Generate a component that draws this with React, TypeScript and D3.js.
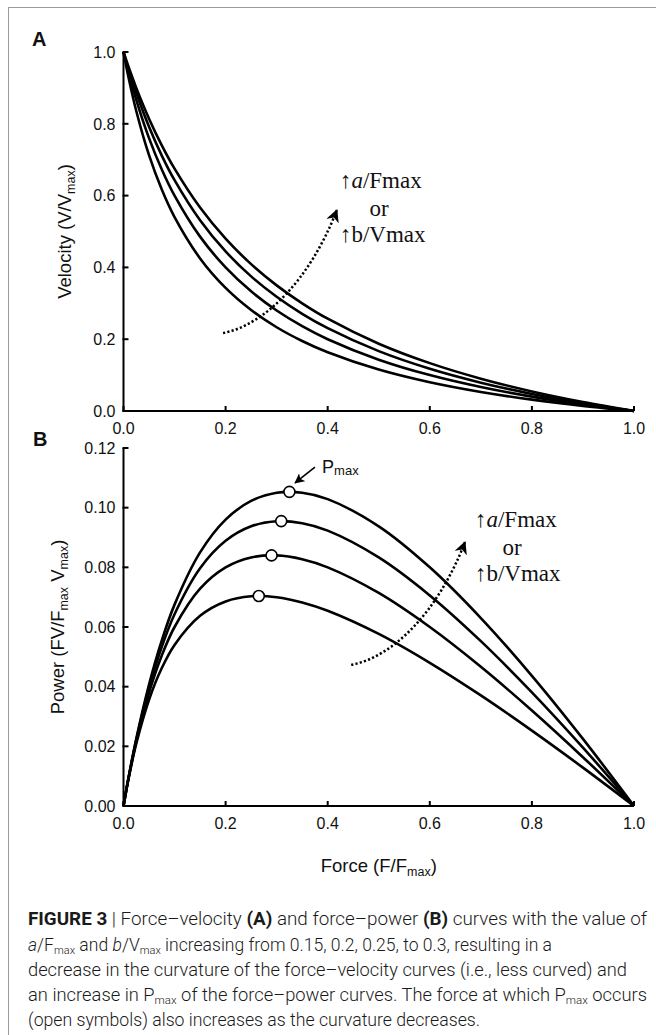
import React from 'react';
import * as d3 from 'd3';

// Normalized force grid (F/Fmax)
const force = [0, 0.01, 0.025, 0.05, 0.075, 0.1, 0.15, 0.2, 0.25, 0.3, 0.35, 0.4, 0.5, 0.6, 0.7, 0.8, 0.9, 1.0];
// a/Fmax = b/Vmax values
const curvature = [0.15, 0.2, 0.25, 0.3];

// Panel A: velocity (V/Vmax)
const velocity015 = [1, 0.9281, 0.8357, 0.7125, 0.6167, 0.54, 0.425, 0.3429, 0.2813, 0.2333, 0.195, 0.1636, 0.1154, 0.08, 0.0529, 0.0316, 0.0143, 0];
const velocity020 = [1, 0.9429, 0.8667, 0.76, 0.6727, 0.6, 0.4857, 0.4, 0.3333, 0.28, 0.2364, 0.2, 0.1429, 0.1, 0.0667, 0.04, 0.0182, 0];
const velocity025 = [1, 0.9519, 0.8864, 0.7917, 0.7115, 0.6429, 0.5313, 0.4444, 0.375, 0.3182, 0.2708, 0.2308, 0.1667, 0.1176, 0.0789, 0.0476, 0.0217, 0];
const velocity030 = [1, 0.9581, 0.9, 0.8143, 0.74, 0.675, 0.5667, 0.48, 0.4091, 0.35, 0.3, 0.2571, 0.1875, 0.1333, 0.09, 0.0545, 0.025, 0];

// Panel B: power (FV/Fmax Vmax)
const power015 = [0, 0.00928, 0.02089, 0.03563, 0.04625, 0.054, 0.06375, 0.06857, 0.07031, 0.07, 0.06825, 0.06545, 0.05769, 0.048, 0.03706, 0.02526, 0.01286, 0];
const power020 = [0, 0.00943, 0.02167, 0.038, 0.05045, 0.06, 0.07286, 0.08, 0.08333, 0.084, 0.08273, 0.08, 0.07143, 0.06, 0.04667, 0.032, 0.01636, 0];
const power025 = [0, 0.00952, 0.02216, 0.03958, 0.05337, 0.06429, 0.07969, 0.08889, 0.09375, 0.09545, 0.09479, 0.09231, 0.08333, 0.07059, 0.05526, 0.0381, 0.01957, 0];
const power030 = [0, 0.00958, 0.0225, 0.04071, 0.0555, 0.0675, 0.085, 0.096, 0.10227, 0.105, 0.105, 0.10286, 0.09375, 0.08, 0.063, 0.04364, 0.0225, 0];

// Pmax points (open symbols)
const pmaxForce = [0.265, 0.29, 0.309, 0.325];
const pmaxPower = [0.0704, 0.084, 0.0955, 0.1053];

// Ticks
const xTicks = [0, 0.2, 0.4, 0.6, 0.8, 1.0];
const vTicks = [0, 0.2, 0.4, 0.6, 0.8, 1.0];
const pTicks = [0, 0.02, 0.04, 0.06, 0.08, 0.1, 0.12];

const velocitySeries = [velocity015, velocity020, velocity025, velocity030];
const powerSeries = [power015, power020, power025, power030];

const SANS = '"Liberation Sans", Arial, sans-serif';
const SERIF = '"Liberation Serif", "Times New Roman", serif';
const CAP = 'Roboto, "Liberation Sans", sans-serif';

export default function App() {
  const W = 656, H = 1035;
  const x = d3.scaleLinear().domain([0, 1]).range([123.5, 634]);
  const yA = d3.scaleLinear().domain([0, 1]).range([411, 52]);
  const yB = d3.scaleLinear().domain([0, 0.12]).range([806, 448]);

  const lineA = d3.line<number>().x((_, i) => x(force[i])).y(d => yA(d)).curve(d3.curveCatmullRom.alpha(0.5));
  const lineB = d3.line<number>().x((_, i) => x(force[i])).y(d => yB(d)).curve(d3.curveCatmullRom.alpha(0.5));

  const tickLen = 5;
  const axisStroke = 2;
  const fmt1 = d3.format('.1f');
  const fmt2 = d3.format('.2f');

  const axes = (y: d3.ScaleLinear<number, number>, yTicks: number[], fmt: (v: number) => string, labelBaseline: number) => {
    const x0 = x(0), x1 = x(1);
    const yb = y.range()[0], yt = y.range()[1];
    return (
      <g>
        <path d={`M${x0},${yt} V${yb} H${x1}`} fill="none" stroke="#000" strokeWidth={axisStroke} />
        {yTicks.map(t => (
          <g key={'y' + t}>
            <line x1={x0 - 1} x2={x0 + tickLen} y1={y(t)} y2={y(t)} stroke="#000" strokeWidth={axisStroke} />
            <text x={x0 - 8} y={y(t)} dy="0.36em" textAnchor="end" fontFamily={SANS} fontSize={16} fill="#111">{fmt(t)}</text>
          </g>
        ))}
        {xTicks.map(t => (
          <g key={'x' + t}>
            <line x1={x(t)} x2={x(t)} y1={yb} y2={yb - tickLen} stroke="#000" strokeWidth={axisStroke} />
            <text x={x(t)} y={labelBaseline} textAnchor="middle" fontFamily={SANS} fontSize={16} fill="#111">{fmt1(t)}</text>
          </g>
        ))}
      </g>
    );
  };

  // annotation arrows (data coordinates)
  const arrowA = [[0.195, 0.217], [0.277, 0.24], [0.365, 0.365], [0.418, 0.56]];
  const arrowB = [[0.446, 0.0473], [0.528, 0.0499], [0.616, 0.065], [0.669, 0.0885]];
  const cubic = (pts: number[][], y: d3.ScaleLinear<number, number>) => {
    const p = d3.path();
    p.moveTo(x(pts[0][0]), y(pts[0][1]));
    p.bezierCurveTo(x(pts[1][0]), y(pts[1][1]), x(pts[2][0]), y(pts[2][1]), x(pts[3][0]), y(pts[3][1]));
    return p.toString();
  };

  const upText = (lx: number, y1: number, ocx: number, yo: number, y3: number) => (
    <g fontFamily={SERIF} fontSize={23} fill="#111">
      <text x={lx} y={y1}>↑<tspan fontStyle="italic">a</tspan>/Fmax</text>
      <text x={ocx} y={yo} textAnchor="middle">or</text>
      <text x={lx} y={y3}>↑b/Vmax</text>
    </g>
  );

  return (
    <svg width={W} height={H} style={{ position: 'absolute', left: 0, top: 0, display: 'block', background: '#fff' }}>
      <defs>
        <marker id="ah" viewBox="0 0 12 12" refX={11} refY={6} markerWidth={13} markerHeight={13} markerUnits="userSpaceOnUse" orient="auto">
          <path d="M0,0 L12,6 L0,12 L3.5,6 Z" fill="#000" />
        </marker>
        <marker id="ah2" viewBox="0 0 12 12" refX={11} refY={6} markerWidth={10} markerHeight={10} markerUnits="userSpaceOnUse" orient="auto">
          <path d="M0,0 L12,6 L0,12 L3,6 Z" fill="#000" />
        </marker>
      </defs>
      <rect x={0} y={0} width={W} height={H} fill="#fff" />
      {/* frame */}
      <line x1={8.5} x2={8.5} y1={7} y2={H} stroke="#9a9a9a" strokeWidth={1} />
      <line x1={8} x2={W} y1={7.5} y2={7.5} stroke="#9a9a9a" strokeWidth={1} />

      {/* Panel labels */}
      <text x={32} y={46} fontFamily={SANS} fontWeight="bold" fontSize={20} fill="#111">A</text>
      <text x={33} y={446} fontFamily={SANS} fontWeight="bold" fontSize={20} fill="#111">B</text>

      {/* Panel A */}
      {axes(yA, vTicks, fmt1, 434)}
      {velocitySeries.map((s, i) => (
        <path key={'v' + curvature[i]} d={lineA(s) || ''} fill="none" stroke="#000" strokeWidth={2.6} />
      ))}
      <path d={cubic(arrowA, yA)} fill="none" stroke="#000" strokeWidth={2.5} strokeDasharray="2.2,2.2" markerEnd="url(#ah)" />
      {upText(x(0.424), yA(0.621), x(0.5005), yA(0.543), yA(0.471))}
      <text transform={`translate(71,${(yA(0) + yA(1)) / 2}) rotate(-90)`} textAnchor="middle" fontFamily={SANS} fontSize={18.5} fill="#111">
        Velocity (V/V<tspan fontSize={12.5} dy={4}>max</tspan><tspan dy={-4}>)</tspan>
      </text>

      {/* Panel B */}
      {axes(yB, pTicks, fmt2, 829)}
      {powerSeries.map((s, i) => (
        <path key={'p' + curvature[i]} d={lineB(s) || ''} fill="none" stroke="#000" strokeWidth={2.6} />
      ))}
      {pmaxForce.map((f, i) => (
        <circle key={'c' + i} cx={x(f)} cy={yB(pmaxPower[i])} r={5.5} fill="#fff" stroke="#000" strokeWidth={1.6} />
      ))}
      <line x1={x(0.375)} y1={yB(0.1136)} x2={x(0.336)} y2={yB(0.1083)} stroke="#000" strokeWidth={1.6} markerEnd="url(#ah2)" />
      <text x={x(0.389)} y={yB(0.1116)} fontFamily={SANS} fontSize={18} fill="#111">
        P<tspan fontSize={13} dy={2}>max</tspan>
      </text>
      <path d={cubic(arrowB, yB)} fill="none" stroke="#000" strokeWidth={2.5} strokeDasharray="2.2,2.2" markerEnd="url(#ah)" />
      {upText(x(0.6885), yB(0.0935), x(0.761), yB(0.0841), yB(0.0754))}
      <text transform={`translate(64,${(yB(0) + yB(0.12)) / 2}) rotate(-90)`} textAnchor="middle" fontFamily={SANS} fontSize={18.5} fill="#111">
        Power (FV/F<tspan fontSize={12.5} dy={4}>max</tspan><tspan dy={-4}> V</tspan><tspan fontSize={12.5} dy={4}>max</tspan><tspan dy={-4}>)</tspan>
      </text>
      <text x={(x(0) + x(1)) / 2} y={872} textAnchor="middle" fontFamily={SANS} fontSize={18.5} fill="#111">
        Force (F/F<tspan fontSize={12.5} dy={4}>max</tspan><tspan dy={-4}>)</tspan>
      </text>

      {/* Caption */}
      <g fontFamily={CAP} fontSize={17.5} fontWeight={300} fill="#1a1a1a">
        <text x={28} y={925} textLength={619} lengthAdjust="spacingAndGlyphs">
          <tspan fontWeight={700}>FIGURE 3</tspan> | Force–velocity <tspan fontWeight={700}>(A)</tspan> and force–power <tspan fontWeight={700}>(B)</tspan> curves with the value of
        </text>
        <text x={28} y={951} textLength={524} lengthAdjust="spacingAndGlyphs">
          <tspan fontStyle="italic">a</tspan>/F<tspan fontSize={11} dy={3}>max</tspan><tspan dy={-3}> and </tspan><tspan fontStyle="italic">b</tspan>/V<tspan fontSize={11} dy={3}>max</tspan><tspan dy={-3}> increasing from 0.15, 0.2, 0.25, to 0.3, resulting in a</tspan>
        </text>
        <text x={28} y={976} textLength={599} lengthAdjust="spacingAndGlyphs">
          decrease in the curvature of the force–velocity curves (i.e., less curved) and
        </text>
        <text x={28} y={1001} textLength={619} lengthAdjust="spacingAndGlyphs">
          an increase in P<tspan fontSize={11} dy={3}>max</tspan><tspan dy={-3}> of the force–power curves. The force at which P</tspan><tspan fontSize={11} dy={3}>max</tspan><tspan dy={-3}> occurs</tspan>
        </text>
        <text x={28} y={1026} textLength={452} lengthAdjust="spacingAndGlyphs">
          (open symbols) also increases as the curvature decreases.
        </text>
      </g>
    </svg>
  );
}
